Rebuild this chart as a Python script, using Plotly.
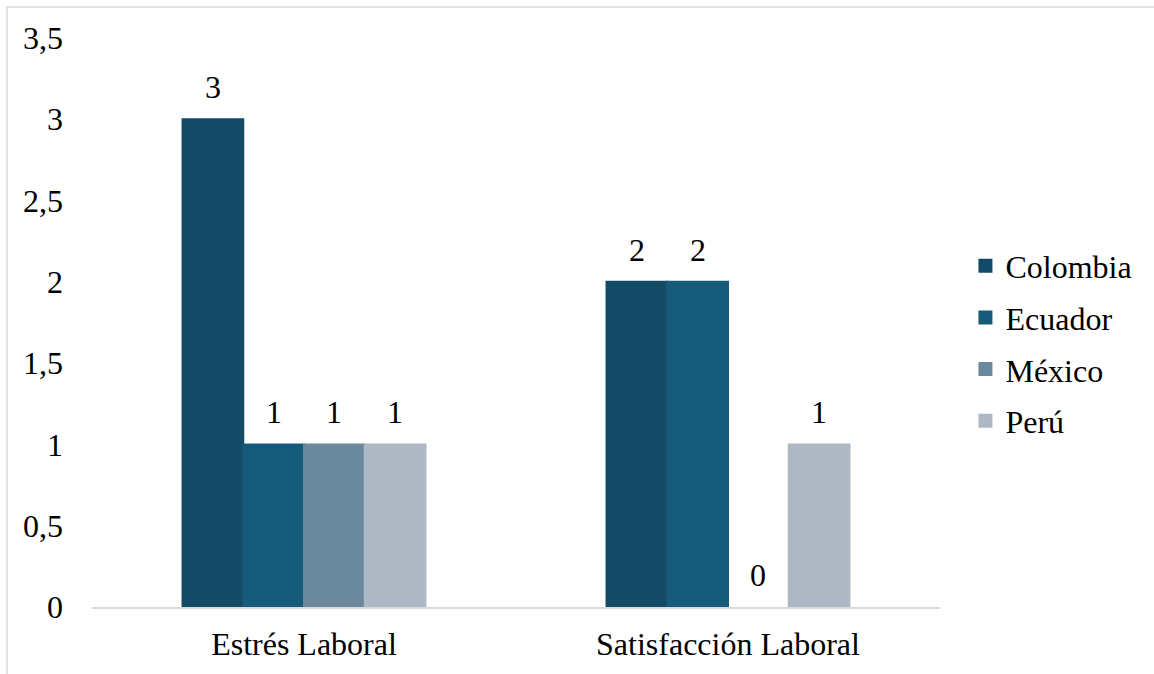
import plotly.graph_objects as go

categories = ["Estrés Laboral", "Satisfacción Laboral"]
countries = ["Colombia", "Ecuador", "México", "Perú"]
colombia = [3, 2]
ecuador = [1, 2]
mexico = [1, 0]
peru = [1, 1]
series = [colombia, ecuador, mexico, peru]
colors = ["#134A66", "#175B7A", "#6B899D", "#ADB8C4"]

FONT = "Times New Roman, Liberation Serif, DejaVu Serif, serif"
FS = 32

fig = go.Figure()
for name, vals, col in zip(countries, series, colors):
    fig.add_trace(go.Bar(
        name=name, x=categories, y=vals, legendgroup=name,
        marker=dict(
            color=col,
            line=dict(width=[2 if v else 0 for v in vals], color=col),
        ),
    ))

# value labels above each bar
bar_w = 848 / 2 * (1 - 0.427) / 4
for i, vals in enumerate(series):
    shift = (i - 1.5) * bar_w
    for cat, v in zip(categories, vals):
        fig.add_annotation(
            x=cat, y=v, text=str(v), showarrow=False,
            xshift=shift, yshift=12, yanchor="bottom",
            font=dict(family=FONT, size=FS, color="#000000"),
        )

# outer chart border
fig.add_shape(
    type="rect", xref="paper", yref="paper",
    x0=(7 - 92) / 848, x1=(1170 - 92) / 848,
    y0=(607 - 690) / 569, y1=(607 - 7) / 569,
    line=dict(color="#D9D9D9", width=1.5), fillcolor="rgba(0,0,0,0)",
    layer="below",
)

fig.update_layout(
    width=1154, height=674,
    margin=dict(l=92, r=214, t=38, b=67, autoexpand=False),
    paper_bgcolor="white", plot_bgcolor="white",
    barmode="group", bargap=0.427, bargroupgap=0,
    font=dict(family=FONT, size=FS, color="#000000"),
    showlegend=True,
    legend=dict(
        x=1.03, y=0.463, xanchor="left", yanchor="middle",
        font=dict(family=FONT, size=FS, color="#000000"),
        itemwidth=30, tracegroupgap=7,
        bgcolor="rgba(0,0,0,0)",
    ),
    xaxis=dict(
        showgrid=False, showline=True, linecolor="#D9D9D9", linewidth=1.5,
        ticks="", ticklabelstandoff=8, automargin=False,
        tickfont=dict(family=FONT, size=FS, color="#000000"),
    ),
    yaxis=dict(
        range=[0, 3.5], dtick=0.5, showgrid=False, showline=False,
        zeroline=False, ticks="", ticklabelstandoff=28, automargin=False,
        tickformat=",.1~f",
        tickfont=dict(family=FONT, size=FS, color="#000000"),
    ),
    separators=", ",
)

fig.write_html("out.html")
